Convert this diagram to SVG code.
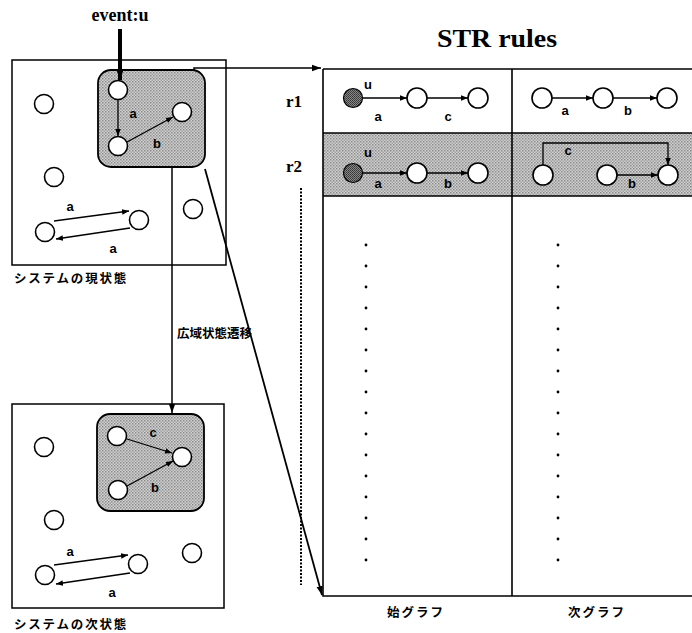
<svg xmlns="http://www.w3.org/2000/svg" width="692" height="633" viewBox="0 0 692 633">
<defs>
<marker id="ah" viewBox="0 0 10 10" refX="10" refY="5" markerWidth="7" markerHeight="7" markerUnits="userSpaceOnUse" orient="auto"><path d="M0,1 L10,5 L0,9 z" fill="#000"/></marker>
<marker id="ahb" viewBox="0 0 10 10" refX="10" refY="5" markerWidth="9" markerHeight="9" markerUnits="userSpaceOnUse" orient="auto"><path d="M0,1.5 L10,5 L0,8.5 z" fill="#000"/></marker>
<pattern id="dots" width="3" height="3" patternUnits="userSpaceOnUse"><rect width="3" height="3" fill="#d2d2d2"/><rect width="1.5" height="1.5" fill="#8a8a8a"/><rect x="1.5" y="1.5" width="1.5" height="1.5" fill="#a0a0a0"/></pattern>
<pattern id="dark" width="2" height="2" patternUnits="userSpaceOnUse"><rect width="2" height="2" fill="#888"/><rect width="1" height="1" fill="#333"/><rect x="1" y="1" width="1" height="1" fill="#444"/></pattern>
</defs>
<style>
.box{fill:#fff;stroke:#000;stroke-width:1.5}
.shade{fill:url(#dots);stroke:#000;stroke-width:1.8}
.n{fill:#fff;stroke:#000;stroke-width:1.6}
.nf{fill:url(#dark);stroke:#000;stroke-width:1.2}
.e{fill:none;stroke:#000;stroke-width:1.3;marker-end:url(#ah)}
.ln{fill:none;stroke:#000;stroke-width:1.6}
.lb{font-family:"Liberation Sans",Arial,sans-serif;font-weight:bold;font-size:13px;text-anchor:middle}
.rs{font-family:"Liberation Serif","Times New Roman",serif;font-weight:bold}
.jp{font-family:"Noto Sans CJK JP","Noto Sans",sans-serif;font-size:12.5px;font-weight:bold}
.dt{fill:#000}
</style>

<g id="title"><text class="rs" x="497" y="47" font-size="25" text-anchor="middle" textLength="120" lengthAdjust="spacingAndGlyphs">STR rules</text></g>
<g id="event"><text class="rs" x="120" y="21" font-size="18" text-anchor="middle">event:u</text></g>

<g id="current-state">
<rect class="box" x="12" y="60" width="214" height="205"/>
<rect class="shade" x="98" y="70" width="107" height="97" rx="13"/>
<circle class="n" cx="118" cy="90" r="9.5"/>
<circle class="n" cx="118" cy="146" r="9.5"/>
<circle class="n" cx="182" cy="112" r="9.5"/>
<circle class="n" cx="44" cy="104" r="9.5"/>
<circle class="n" cx="54" cy="177" r="9.5"/>
<circle class="n" cx="45" cy="232" r="9.5"/>
<circle class="n" cx="139" cy="220" r="9.5"/>
<circle class="n" cx="193" cy="209" r="9.5"/>
<path class="e" d="M118,100 L118,136"/>
<text class="lb" x="133" y="118">a</text>
<path class="e" d="M127,142 L173,117"/>
<text class="lb" x="157" y="148">b</text>
<path class="e" d="M54,221 L129,211"/>
<text class="lb" x="70" y="211">a</text>
<path class="e" d="M130,228 L56,239"/>
<text class="lb" x="113" y="253">a</text>
<text class="jp" x="14" y="283" letter-spacing="1.8">システムの現状態</text>
</g>

<g id="next-state">
<rect class="box" x="12" y="404" width="212" height="204"/>
<rect class="shade" x="97" y="414" width="107" height="97" rx="13"/>
<circle class="n" cx="117" cy="436" r="9.5"/>
<circle class="n" cx="182" cy="457" r="9.5"/>
<circle class="n" cx="118" cy="490" r="9.5"/>
<circle class="n" cx="44" cy="447" r="9.5"/>
<circle class="n" cx="54" cy="520" r="9.5"/>
<circle class="n" cx="45" cy="575" r="9.5"/>
<circle class="n" cx="138" cy="564" r="9.5"/>
<circle class="n" cx="192" cy="553" r="9.5"/>
<path class="e" d="M127,439 L172,453"/>
<text class="lb" x="153" y="437">c</text>
<path class="e" d="M127,486 L173,461"/>
<text class="lb" x="155" y="492">b</text>
<path class="e" d="M54,565 L128,555"/>
<text class="lb" x="70" y="556">a</text>
<path class="e" d="M130,573 L56,584"/>
<text class="lb" x="112" y="597">a</text>
<text class="jp" x="14" y="629" letter-spacing="1.8">システムの次状態</text>
</g>

<g id="rules-table">
<rect x="323" y="133" width="369" height="63" fill="url(#dots)"/>
<path class="ln" d="M323,69 L692,69 M323,69 L323,596 L692,596 M512,69 L512,596 M323,133 L692,133 M323,196 L692,196"/>
<text class="rs" x="294" y="107" font-size="17" text-anchor="middle">r1</text>
<text class="rs" x="294" y="172" font-size="17" text-anchor="middle">r2</text>
<line x1="301" y1="188" x2="301" y2="585" stroke="#000" stroke-width="2" stroke-dasharray="2,1.5"/>
</g>

<g id="r1-start">
<circle class="nf" cx="353" cy="98" r="9.5"/>
<circle class="n" cx="417" cy="98" r="10"/>
<circle class="n" cx="478" cy="98" r="10"/>
<path class="e" d="M363,98 L407,98"/>
<path class="e" d="M427,98 L468,98"/>
<text class="lb" x="368" y="89">u</text>
<text class="lb" x="378" y="121">a</text>
<text class="lb" x="448" y="121">c</text>
</g>
<g id="r1-next">
<circle class="n" cx="542" cy="98" r="10"/>
<circle class="n" cx="603" cy="98" r="10"/>
<circle class="n" cx="667" cy="98" r="10"/>
<path class="e" d="M552,98 L593,98"/>
<path class="e" d="M613,98 L657,98"/>
<text class="lb" x="565" y="115">a</text>
<text class="lb" x="628" y="115">b</text>
</g>
<g id="r2-start">
<circle class="nf" cx="353" cy="173" r="9.5"/>
<circle class="n" cx="417" cy="173" r="10"/>
<circle class="n" cx="478" cy="173" r="10"/>
<path class="e" d="M363,173 L407,173"/>
<path class="e" d="M427,173 L468,173"/>
<text class="lb" x="368" y="157">u</text>
<text class="lb" x="378" y="188">a</text>
<text class="lb" x="448" y="188">b</text>
</g>
<g id="r2-next">
<circle class="n" cx="543" cy="175" r="10"/>
<circle class="n" cx="607" cy="175" r="10"/>
<circle class="n" cx="668" cy="175" r="10"/>
<path class="e" d="M543,165 L543,143 L668,143 L668,165"/>
<path class="e" d="M617,175 L658,175"/>
<text class="lb" x="568" y="155">c</text>
<text class="lb" x="632" y="188">b</text>
</g>

<g id="table-dots">
<g class="dt">
<circle cx="366" cy="245" r="1.4"/><circle cx="366" cy="266" r="1.4"/><circle cx="366" cy="287" r="1.4"/><circle cx="366" cy="308" r="1.4"/><circle cx="366" cy="329" r="1.4"/><circle cx="366" cy="350" r="1.4"/><circle cx="366" cy="371" r="1.4"/><circle cx="366" cy="392" r="1.4"/><circle cx="366" cy="413" r="1.4"/><circle cx="366" cy="434" r="1.4"/><circle cx="366" cy="455" r="1.4"/><circle cx="366" cy="476" r="1.4"/><circle cx="366" cy="497" r="1.4"/><circle cx="366" cy="518" r="1.4"/><circle cx="366" cy="539" r="1.4"/><circle cx="366" cy="560" r="1.4"/>
<circle cx="558" cy="245" r="1.4"/><circle cx="558" cy="266" r="1.4"/><circle cx="558" cy="287" r="1.4"/><circle cx="558" cy="308" r="1.4"/><circle cx="558" cy="329" r="1.4"/><circle cx="558" cy="350" r="1.4"/><circle cx="558" cy="371" r="1.4"/><circle cx="558" cy="392" r="1.4"/><circle cx="558" cy="413" r="1.4"/><circle cx="558" cy="434" r="1.4"/><circle cx="558" cy="455" r="1.4"/><circle cx="558" cy="476" r="1.4"/><circle cx="558" cy="497" r="1.4"/><circle cx="558" cy="518" r="1.4"/><circle cx="558" cy="539" r="1.4"/><circle cx="558" cy="560" r="1.4"/>
</g>
<text class="jp" x="416" y="617" text-anchor="middle" letter-spacing="2">始グラフ</text>
<text class="jp" x="597" y="617" text-anchor="middle" letter-spacing="2">次グラフ</text>
</g>

<g id="connectors">
<line x1="120" y1="29" x2="120" y2="80" stroke="#000" stroke-width="4" marker-end="url(#ahb)"/>
<path d="M194,71 L194,68 L321,68" fill="none" stroke="#000" stroke-width="1.5" marker-end="url(#ahb)"/>
<path d="M172,167 L172,413" fill="none" stroke="#000" stroke-width="1.5" marker-end="url(#ahb)"/>
<path d="M205,169 L322,595" fill="none" stroke="#000" stroke-width="1.8" marker-end="url(#ahb)"/>
<text class="jp" x="177" y="338" letter-spacing="0">広域状態遷移</text>
</g>
</svg>
